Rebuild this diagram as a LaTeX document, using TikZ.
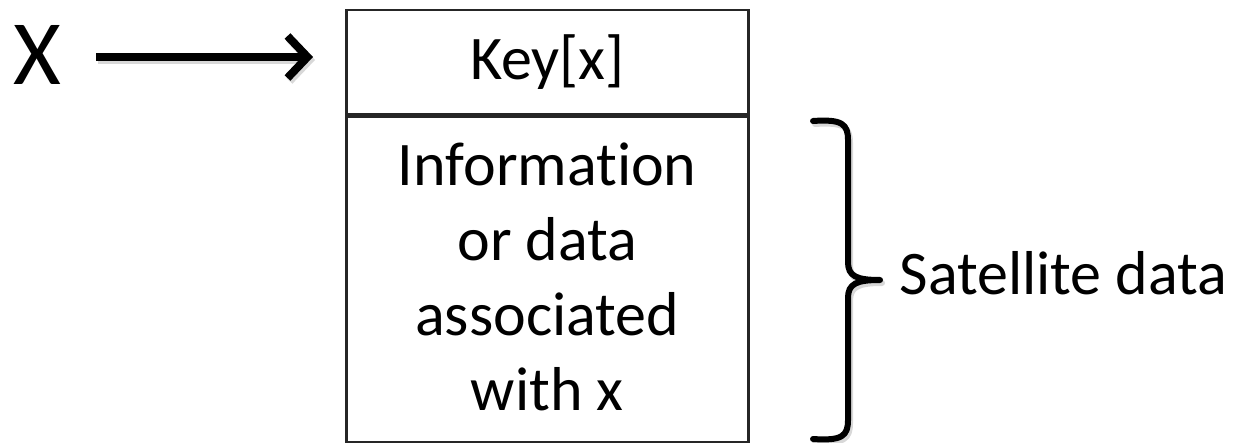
\documentclass[tikz,border=0pt]{standalone}
\usepackage{fontspec}
\setmainfont{Carlito}[Ligatures={NoCommon}]
\usetikzlibrary{arrows.meta}
\begin{document}
\begin{tikzpicture}[x=1pt,y=-1pt,
  boxstyle/.style={draw=black!85, line width=2.5pt, inner sep=0pt, align=center,
    font=\fontsize{62}{75}\selectfont},
  arrowstyle/.style={line width=8.5pt, -{Straight Barb[length=20pt,width=42pt,line width=8pt]}},
  bracestyle/.style={line width=6pt, line cap=round, line join=round},
  shadowstyle/.style={black!30, opacity=0.5, transform canvas={xshift=2pt,yshift=-3pt}}]
\useasboundingbox (0,0) rectangle (1238,443);
\node (X) at (37,55) {\fontsize{92}{94}\selectfont X};
\node (key) [boxstyle, minimum width=402pt, minimum height=104pt, anchor=north west] at (345,9) {Key[x]};
\node (info) [boxstyle, minimum width=402pt, minimum height=325pt, anchor=north] at (key.south) {};
\node (infotext) [align=center, font=\fontsize{62}{75}\selectfont] at ([yshift=2pt]info.center) {Information\\or data\\associated\\with x};
\coordinate (arrstart) at (96,57);
\coordinate (arrend) at (313,57);
\draw[arrowstyle, shadowstyle] (arrstart) -- (arrend);
\draw[arrowstyle] (arrstart) -- (arrend);
\coordinate (bt) at (813,121);
\coordinate (bm) at (880,280);
\coordinate (bb) at (813,439);
\path[bracestyle, draw, shadowstyle] (bt) .. controls (842,119) and (848,124) .. (848,140)
  -- (848,262) .. controls (848,276) and (856,280) .. (bm)
  .. controls (856,280) and (848,284) .. (848,298)
  -- (848,420) .. controls (848,436) and (842,441) .. (bb);
\draw[bracestyle] (bt) .. controls (842,119) and (848,124) .. (848,140)
  -- (848,262) .. controls (848,276) and (856,280) .. (bm)
  .. controls (856,280) and (848,284) .. (848,298)
  -- (848,420) .. controls (848,436) and (842,441) .. (bb);
\node (sat) [anchor=west, font=\fontsize{62}{64}\selectfont] at (896,273) {Satellite data};
\end{tikzpicture}
\end{document}
